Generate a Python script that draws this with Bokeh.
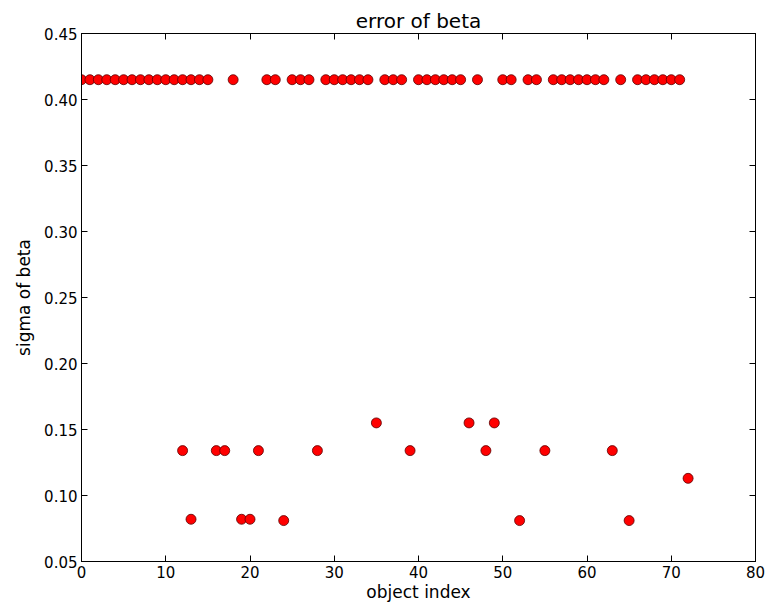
from bokeh.plotting import figure
from bokeh.models import LinearAxis, FixedTicker, Range1d, PrintfTickFormatter, ColumnDataSource
from bokeh.embed import file_html
from bokeh.resources import INLINE

# object index and the fitted sigma of beta for each object
object_index = [
    0, 1, 2, 3, 4, 5, 6, 7, 8, 9, 10, 11, 12, 13, 14, 15,
    18, 22, 23, 25, 26, 27, 29, 30, 31, 32, 33, 34, 36, 37, 38,
    40, 41, 42, 43, 44, 45, 47, 50, 51, 53, 54, 56, 57, 58, 59, 60, 61, 62,
    64, 66, 67, 68, 69, 70, 71,
    12, 13, 16, 17, 19, 20, 21, 24, 28, 35, 39, 46, 48, 49, 52, 55, 63, 65, 72,
]
sigma_beta = [
    0.415, 0.415, 0.415, 0.415, 0.415, 0.415, 0.415, 0.415, 0.415, 0.415, 0.415, 0.415, 0.415, 0.415, 0.415, 0.415,
    0.415, 0.415, 0.415, 0.415, 0.415, 0.415, 0.415, 0.415, 0.415, 0.415, 0.415, 0.415, 0.415, 0.415, 0.415,
    0.415, 0.415, 0.415, 0.415, 0.415, 0.415, 0.415, 0.415, 0.415, 0.415, 0.415, 0.415, 0.415, 0.415, 0.415, 0.415, 0.415, 0.415,
    0.415, 0.415, 0.415, 0.415, 0.415, 0.415, 0.415,
    0.134, 0.082, 0.134, 0.134, 0.082, 0.082, 0.134, 0.081, 0.134, 0.155, 0.134, 0.155, 0.134, 0.155, 0.081, 0.134, 0.134, 0.081, 0.113,
]

x_ticks = [0, 10, 20, 30, 40, 50, 60, 70, 80]
y_ticks = [0.05, 0.10, 0.15, 0.20, 0.25, 0.30, 0.35, 0.40, 0.45]

FONT = "DejaVu Sans"

p = figure(
    width=768, height=605, output_backend="svg", toolbar_location=None,
    x_range=Range1d(0, 80), y_range=Range1d(0.05, 0.45),
    min_border_left=81, min_border_right=13, min_border_top=33, min_border_bottom=44,
    title="error of beta", x_axis_label="object index", y_axis_label="sigma of beta",
)
p.background_fill_color = "white"
p.border_fill_color = "white"
p.outline_line_color = "black"
p.outline_line_width = 1
p.xgrid.visible = False
p.ygrid.visible = False

p.title.align = "center"
p.title.text_font = FONT
p.title.text_font_size = "20px"
p.title.text_font_style = "normal"
p.title.text_color = "black"
p.title.standoff = 2

for ax in (p.xaxis[0], p.yaxis[0]):
    ax.major_label_text_font = FONT
    ax.major_label_text_font_size = "15px"
    ax.major_label_text_color = "black"
    ax.axis_label_text_font = FONT
    ax.axis_label_text_font_size = "17px"
    ax.axis_label_text_font_style = "normal"
    ax.axis_label_text_color = "black"
    ax.major_tick_in = 6
    ax.major_tick_out = 0
    ax.minor_tick_in = 0
    ax.minor_tick_out = 0
    ax.axis_line_color = "black"
    ax.major_tick_line_color = "black"

p.xaxis[0].ticker = FixedTicker(ticks=x_ticks)
p.yaxis[0].ticker = FixedTicker(ticks=y_ticks)
p.yaxis[0].formatter = PrintfTickFormatter(format="%.2f")
p.xaxis[0].major_label_standoff = 4
p.xaxis[0].axis_label_standoff = 1
p.yaxis[0].major_label_standoff = 4
p.yaxis[0].axis_label_standoff = 7

# mirrored tick marks on the top and right edges of the frame, without labels
blank_x = {t: "" for t in x_ticks}
blank_y = {t: "" for t in y_ticks}
top_axis = LinearAxis(ticker=FixedTicker(ticks=x_ticks), major_label_overrides=blank_x,
                      major_label_text_color=None,
                      major_tick_in=6, major_tick_out=0, minor_tick_in=0, minor_tick_out=0,
                      major_label_standoff=0, axis_line_color="black")
right_axis = LinearAxis(ticker=FixedTicker(ticks=y_ticks), major_label_overrides=blank_y,
                        major_label_text_color=None,
                        major_tick_in=6, major_tick_out=0, minor_tick_in=0, minor_tick_out=0,
                        major_label_standoff=0, axis_line_color="black")
p.add_layout(top_axis, "above")
p.add_layout(right_axis, "right")

src = ColumnDataSource(data=dict(x=object_index, y=sigma_beta))
p.scatter("x", "y", source=src, marker="circle", size=10,
          fill_color="#ff0000", line_color="#5a0000", line_width=0.8)

open("out.html", "w").write(file_html(p, INLINE))
